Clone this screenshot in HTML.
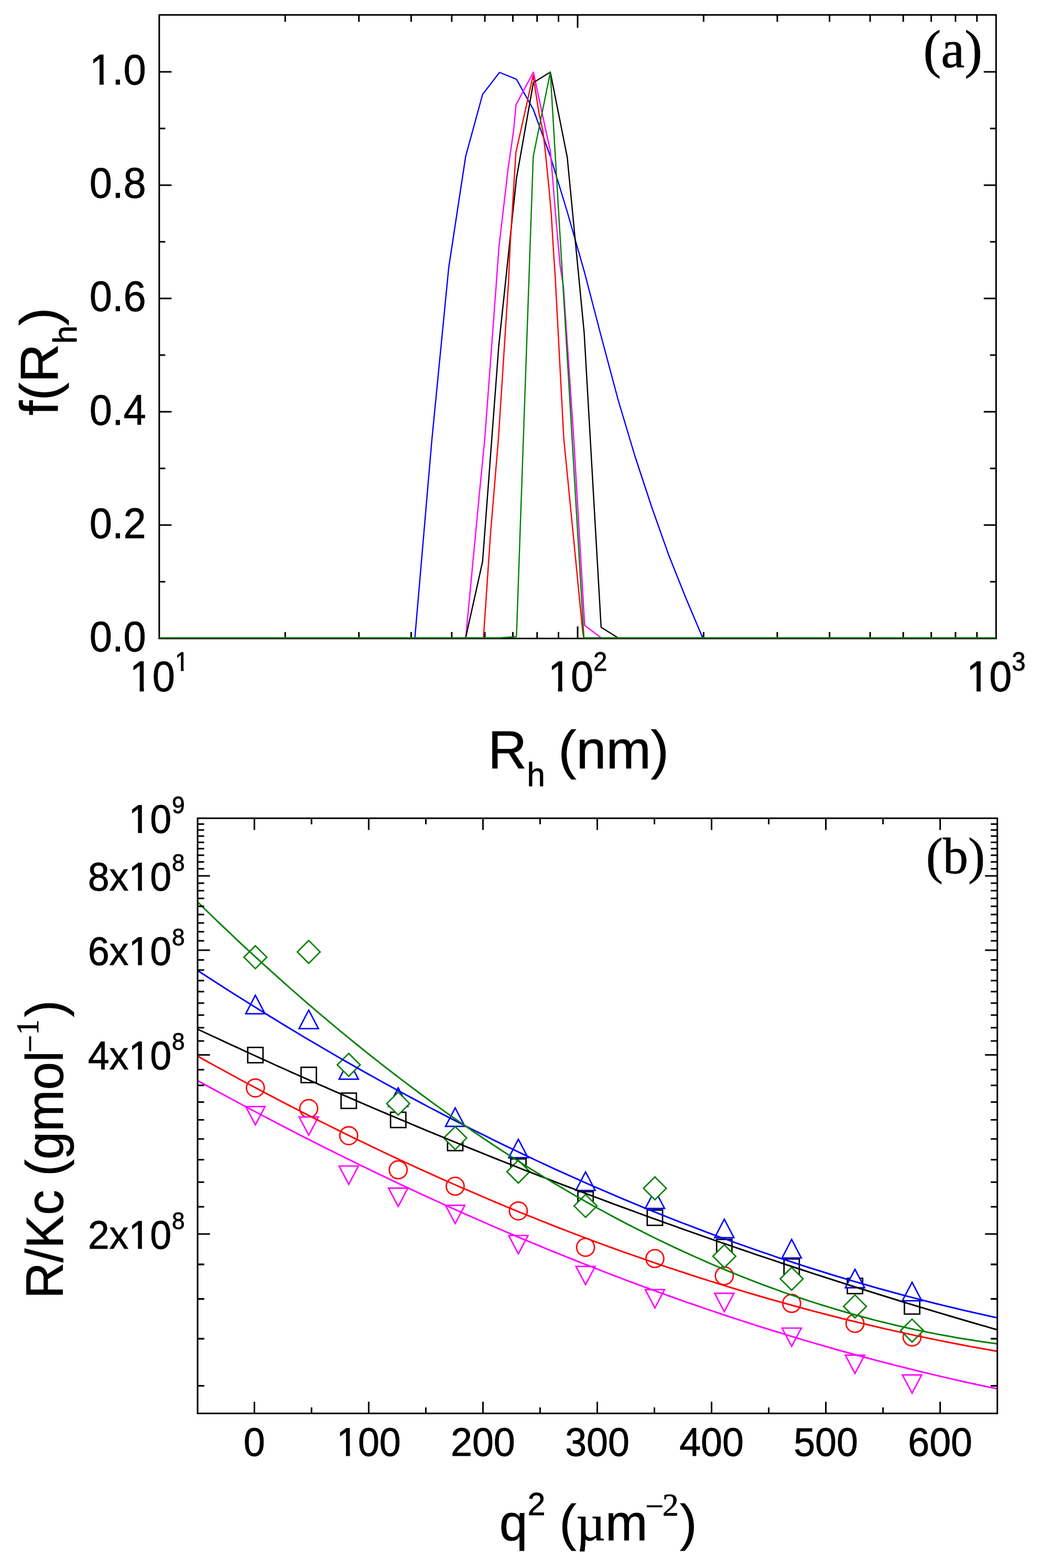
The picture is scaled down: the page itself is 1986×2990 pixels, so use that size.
<!DOCTYPE html>
<html><head><meta charset="utf-8"><title>figure</title>
<style>html,body{margin:0;padding:0;background:#fff;} svg{display:block;} text{stroke:#000;stroke-width:0.8px;}</style></head>
<body><svg width="1986" height="2990" viewBox="0 0 1986 2990">
<defs><clipPath id="clipb"><rect x="377.0" y="1560.3" width="1525.7" height="1134.9"/></clipPath></defs>
<rect width="1986" height="2990" fill="#fff"/>
<rect x="303.8" y="28.4" width="1596.5" height="1189.1" fill="none" stroke="#000" stroke-width="3"/>
<line x1="303.8" y1="1217.3" x2="327.3" y2="1217.3" stroke="#000" stroke-width="3"/>
<line x1="1900.3" y1="1217.3" x2="1876.8" y2="1217.3" stroke="#000" stroke-width="3"/>
<line x1="303.8" y1="1109.3" x2="315.3" y2="1109.3" stroke="#000" stroke-width="3"/>
<line x1="1900.3" y1="1109.3" x2="1888.8" y2="1109.3" stroke="#000" stroke-width="3"/>
<line x1="303.8" y1="1001.2" x2="327.3" y2="1001.2" stroke="#000" stroke-width="3"/>
<line x1="1900.3" y1="1001.2" x2="1876.8" y2="1001.2" stroke="#000" stroke-width="3"/>
<line x1="303.8" y1="893.2" x2="315.3" y2="893.2" stroke="#000" stroke-width="3"/>
<line x1="1900.3" y1="893.2" x2="1888.8" y2="893.2" stroke="#000" stroke-width="3"/>
<line x1="303.8" y1="785.2" x2="327.3" y2="785.2" stroke="#000" stroke-width="3"/>
<line x1="1900.3" y1="785.2" x2="1876.8" y2="785.2" stroke="#000" stroke-width="3"/>
<line x1="303.8" y1="677.1" x2="315.3" y2="677.1" stroke="#000" stroke-width="3"/>
<line x1="1900.3" y1="677.1" x2="1888.8" y2="677.1" stroke="#000" stroke-width="3"/>
<line x1="303.8" y1="569.1" x2="327.3" y2="569.1" stroke="#000" stroke-width="3"/>
<line x1="1900.3" y1="569.1" x2="1876.8" y2="569.1" stroke="#000" stroke-width="3"/>
<line x1="303.8" y1="461.1" x2="315.3" y2="461.1" stroke="#000" stroke-width="3"/>
<line x1="1900.3" y1="461.1" x2="1888.8" y2="461.1" stroke="#000" stroke-width="3"/>
<line x1="303.8" y1="353.1" x2="327.3" y2="353.1" stroke="#000" stroke-width="3"/>
<line x1="1900.3" y1="353.1" x2="1876.8" y2="353.1" stroke="#000" stroke-width="3"/>
<line x1="303.8" y1="245.0" x2="315.3" y2="245.0" stroke="#000" stroke-width="3"/>
<line x1="1900.3" y1="245.0" x2="1888.8" y2="245.0" stroke="#000" stroke-width="3"/>
<line x1="303.8" y1="137.0" x2="327.3" y2="137.0" stroke="#000" stroke-width="3"/>
<line x1="1900.3" y1="137.0" x2="1876.8" y2="137.0" stroke="#000" stroke-width="3"/>
<line x1="544.1" y1="1217.5" x2="544.1" y2="1205.2" stroke="#000" stroke-width="3"/>
<line x1="544.1" y1="28.4" x2="544.1" y2="41.6" stroke="#000" stroke-width="3"/>
<line x1="684.7" y1="1217.5" x2="684.7" y2="1205.2" stroke="#000" stroke-width="3"/>
<line x1="684.7" y1="28.4" x2="684.7" y2="41.6" stroke="#000" stroke-width="3"/>
<line x1="784.4" y1="1217.5" x2="784.4" y2="1205.2" stroke="#000" stroke-width="3"/>
<line x1="784.4" y1="28.4" x2="784.4" y2="41.6" stroke="#000" stroke-width="3"/>
<line x1="861.8" y1="1217.5" x2="861.8" y2="1205.2" stroke="#000" stroke-width="3"/>
<line x1="861.8" y1="28.4" x2="861.8" y2="41.6" stroke="#000" stroke-width="3"/>
<line x1="925.0" y1="1217.5" x2="925.0" y2="1205.2" stroke="#000" stroke-width="3"/>
<line x1="925.0" y1="28.4" x2="925.0" y2="41.6" stroke="#000" stroke-width="3"/>
<line x1="978.4" y1="1217.5" x2="978.4" y2="1205.2" stroke="#000" stroke-width="3"/>
<line x1="978.4" y1="28.4" x2="978.4" y2="41.6" stroke="#000" stroke-width="3"/>
<line x1="1024.7" y1="1217.5" x2="1024.7" y2="1205.2" stroke="#000" stroke-width="3"/>
<line x1="1024.7" y1="28.4" x2="1024.7" y2="41.6" stroke="#000" stroke-width="3"/>
<line x1="1065.5" y1="1217.5" x2="1065.5" y2="1205.2" stroke="#000" stroke-width="3"/>
<line x1="1065.5" y1="28.4" x2="1065.5" y2="41.6" stroke="#000" stroke-width="3"/>
<line x1="1102.0" y1="1217.5" x2="1102.0" y2="1194.5" stroke="#000" stroke-width="3"/>
<line x1="1102.0" y1="28.4" x2="1102.0" y2="52.9" stroke="#000" stroke-width="3"/>
<line x1="1342.3" y1="1217.5" x2="1342.3" y2="1205.2" stroke="#000" stroke-width="3"/>
<line x1="1342.3" y1="28.4" x2="1342.3" y2="41.6" stroke="#000" stroke-width="3"/>
<line x1="1482.9" y1="1217.5" x2="1482.9" y2="1205.2" stroke="#000" stroke-width="3"/>
<line x1="1482.9" y1="28.4" x2="1482.9" y2="41.6" stroke="#000" stroke-width="3"/>
<line x1="1582.6" y1="1217.5" x2="1582.6" y2="1205.2" stroke="#000" stroke-width="3"/>
<line x1="1582.6" y1="28.4" x2="1582.6" y2="41.6" stroke="#000" stroke-width="3"/>
<line x1="1660.0" y1="1217.5" x2="1660.0" y2="1205.2" stroke="#000" stroke-width="3"/>
<line x1="1660.0" y1="28.4" x2="1660.0" y2="41.6" stroke="#000" stroke-width="3"/>
<line x1="1723.2" y1="1217.5" x2="1723.2" y2="1205.2" stroke="#000" stroke-width="3"/>
<line x1="1723.2" y1="28.4" x2="1723.2" y2="41.6" stroke="#000" stroke-width="3"/>
<line x1="1776.6" y1="1217.5" x2="1776.6" y2="1205.2" stroke="#000" stroke-width="3"/>
<line x1="1776.6" y1="28.4" x2="1776.6" y2="41.6" stroke="#000" stroke-width="3"/>
<line x1="1822.9" y1="1217.5" x2="1822.9" y2="1205.2" stroke="#000" stroke-width="3"/>
<line x1="1822.9" y1="28.4" x2="1822.9" y2="41.6" stroke="#000" stroke-width="3"/>
<line x1="1863.8" y1="1217.5" x2="1863.8" y2="1205.2" stroke="#000" stroke-width="3"/>
<line x1="1863.8" y1="28.4" x2="1863.8" y2="41.6" stroke="#000" stroke-width="3"/>
<polyline points="304.0,1216.3 791.5,1216.3 823.8,840.0 856.1,510.0 888.4,298.0 920.7,180.0 953.0,138.0 985.3,151.2 1017.6,209.0 1049.9,298.0 1082.2,404.0 1114.5,517.0 1146.8,641.0 1179.1,762.0 1211.4,870.0 1243.7,968.0 1276.0,1059.0 1308.3,1140.0 1340.6,1216.3 1900.0,1216.3" fill="none" stroke="#0000ff" stroke-width="2.4" stroke-linejoin="round"/>
<polyline points="304.0,1216.3 888.5,1216.3 913.9,948.6 925.0,835.0 946.5,545.0 951.7,473.2 960.6,396.7 969.5,320.2 979.7,250.0 984.5,199.6 1017.6,137.5 1041.6,250.0 1050.0,288.3 1054.3,339.3 1059.4,403.1 1064.5,460.5 1068.4,505.1 1075.0,548.0 1094.5,835.0 1115.4,1192.5 1146.8,1216.3 1900.0,1216.3" fill="none" stroke="#ff00ff" stroke-width="2.4" stroke-linejoin="round"/>
<polyline points="304.0,1216.3 888.4,1216.3 920.7,1070.5 951.5,660.0 985.3,340.0 1017.6,157.5 1049.9,137.5 1082.2,300.0 1114.5,635.0 1146.8,1196.3 1179.1,1216.3 1900.0,1216.3" fill="none" stroke="#000000" stroke-width="2.4" stroke-linejoin="round"/>
<polyline points="304.0,1216.3 922.3,1216.3 935.9,1016.3 951.0,835.0 970.0,540.0 973.3,466.8 976.5,415.8 980.4,352.0 984.2,290.8 1017.0,144.0 1029.0,220.0 1035.7,249.5 1040.3,288.3 1046.7,352.0 1051.8,409.4 1055.6,473.2 1059.4,530.6 1075.5,835.0 1112.0,1207.7 1113.7,1216.3 1900.0,1216.3" fill="none" stroke="#ff0000" stroke-width="2.4" stroke-linejoin="round"/>
<polyline points="304.0,1216.3 953.0,1216.3 985.3,1214.0 1017.3,298.5 1049.9,137.5 1114.0,1216.3 1900.0,1216.3" fill="none" stroke="#008000" stroke-width="2.4" stroke-linejoin="round"/>
<text transform="translate(278.6,1241.6) scale(1,1.05)" font-family="'Liberation Sans', Arial, sans-serif" font-size="77.5" text-anchor="end" >0.0</text>
<text transform="translate(278.6,1025.5) scale(1,1.05)" font-family="'Liberation Sans', Arial, sans-serif" font-size="77.5" text-anchor="end" >0.2</text>
<text transform="translate(278.6,809.5) scale(1,1.05)" font-family="'Liberation Sans', Arial, sans-serif" font-size="77.5" text-anchor="end" >0.4</text>
<text transform="translate(278.6,593.4) scale(1,1.05)" font-family="'Liberation Sans', Arial, sans-serif" font-size="77.5" text-anchor="end" >0.6</text>
<text transform="translate(278.6,377.4) scale(1,1.05)" font-family="'Liberation Sans', Arial, sans-serif" font-size="77.5" text-anchor="end" >0.8</text>
<text transform="translate(278.6,161.3) scale(1,1.05)" font-family="'Liberation Sans', Arial, sans-serif" font-size="77.5" text-anchor="end" >1.0</text>
<text transform="translate(303.8,1317.5) scale(1,1.05)" font-family="'Liberation Sans', Arial, sans-serif" font-size="77.5" text-anchor="middle">10<tspan font-size="47.2" dy="-37">1</tspan></text>
<text transform="translate(1102.0,1317.5) scale(1,1.05)" font-family="'Liberation Sans', Arial, sans-serif" font-size="77.5" text-anchor="middle">10<tspan font-size="47.2" dy="-37">2</tspan></text>
<text transform="translate(1900.3,1317.5) scale(1,1.05)" font-family="'Liberation Sans', Arial, sans-serif" font-size="77.5" text-anchor="middle">10<tspan font-size="47.2" dy="-37">3</tspan></text>
<text x="1761.5" y="128.4" font-family="'Liberation Serif', 'Times New Roman', serif" font-size="101.4">(a)</text>
<text x="931.1" y="1464.8" font-family="'Liberation Sans', Arial, sans-serif" font-size="102.5">R<tspan font-size="62.4" dy="33.7">h</tspan><tspan dy="-33.7" dx="-3"> (nm)</tspan></text>
<text transform="translate(110.2,792.2) rotate(-90)" font-family="'Liberation Sans', Arial, sans-serif" font-size="102.5">f(R<tspan font-size="62.4" dy="35.5">h</tspan><tspan dy="-35.5">)</tspan></text>
<g clip-path="url(#clipb)"><rect x="472.6" y="1997.3" width="29.2" height="29.2" fill="#fff" stroke="#000" stroke-width="2.7"/><rect x="574.4" y="2035.2" width="29.2" height="29.2" fill="#fff" stroke="#000" stroke-width="2.7"/><rect x="650.7" y="2084.4" width="29.2" height="29.2" fill="#fff" stroke="#000" stroke-width="2.7"/><rect x="745.1" y="2120.9" width="29.2" height="29.2" fill="#fff" stroke="#000" stroke-width="2.7"/><rect x="853.8" y="2164.9" width="29.2" height="29.2" fill="#fff" stroke="#000" stroke-width="2.7"/><rect x="974.3" y="2209.9" width="29.2" height="29.2" fill="#fff" stroke="#000" stroke-width="2.7"/><rect x="1102.5" y="2272.4" width="29.2" height="29.2" fill="#fff" stroke="#000" stroke-width="2.7"/><rect x="1234.8" y="2307.4" width="29.2" height="29.2" fill="#fff" stroke="#000" stroke-width="2.7"/><rect x="1367.2" y="2363.4" width="29.2" height="29.2" fill="#fff" stroke="#000" stroke-width="2.7"/><rect x="1495.7" y="2400.7" width="29.2" height="29.2" fill="#fff" stroke="#000" stroke-width="2.7"/><rect x="1616.5" y="2437.6" width="29.2" height="29.2" fill="#fff" stroke="#000" stroke-width="2.7"/><rect x="1725.4" y="2476.6" width="29.2" height="29.2" fill="#fff" stroke="#000" stroke-width="2.7"/><circle cx="487.2" cy="2074.6" r="17" fill="#fff" stroke="#ff0000" stroke-width="2.7"/><circle cx="589.0" cy="2113.9" r="17" fill="#fff" stroke="#ff0000" stroke-width="2.7"/><circle cx="665.3" cy="2165.6" r="17" fill="#fff" stroke="#ff0000" stroke-width="2.7"/><circle cx="759.7" cy="2230.7" r="17" fill="#fff" stroke="#ff0000" stroke-width="2.7"/><circle cx="868.4" cy="2262.0" r="17" fill="#fff" stroke="#ff0000" stroke-width="2.7"/><circle cx="988.9" cy="2309.1" r="17" fill="#fff" stroke="#ff0000" stroke-width="2.7"/><circle cx="1117.1" cy="2378.5" r="17" fill="#fff" stroke="#ff0000" stroke-width="2.7"/><circle cx="1249.4" cy="2400.0" r="17" fill="#fff" stroke="#ff0000" stroke-width="2.7"/><circle cx="1381.8" cy="2432.8" r="17" fill="#fff" stroke="#ff0000" stroke-width="2.7"/><circle cx="1510.3" cy="2485.4" r="17" fill="#fff" stroke="#ff0000" stroke-width="2.7"/><circle cx="1631.1" cy="2523.5" r="17" fill="#fff" stroke="#ff0000" stroke-width="2.7"/><circle cx="1740.0" cy="2549.5" r="17" fill="#fff" stroke="#ff0000" stroke-width="2.7"/><polygon points="468.8,1933.2 505.6,1933.2 487.2,1897.9" fill="#fff" stroke="#0000ff" stroke-width="2.7"/><polygon points="570.6,1961.5 607.4,1961.5 589.0,1926.2" fill="#fff" stroke="#0000ff" stroke-width="2.7"/><polygon points="646.9,2057.8 683.7,2057.8 665.3,2022.5" fill="#fff" stroke="#0000ff" stroke-width="2.7"/><polygon points="741.3,2109.8 778.1,2109.8 759.7,2074.5" fill="#fff" stroke="#0000ff" stroke-width="2.7"/><polygon points="850.0,2147.9 886.8,2147.9 868.4,2112.6" fill="#fff" stroke="#0000ff" stroke-width="2.7"/><polygon points="970.5,2207.7 1007.3,2207.7 988.9,2172.4" fill="#fff" stroke="#0000ff" stroke-width="2.7"/><polygon points="1098.7,2270.0 1135.5,2270.0 1117.1,2234.7" fill="#fff" stroke="#0000ff" stroke-width="2.7"/><polygon points="1231.0,2304.4 1267.8,2304.4 1249.4,2269.1" fill="#fff" stroke="#0000ff" stroke-width="2.7"/><polygon points="1363.4,2360.2 1400.2,2360.2 1381.8,2324.9" fill="#fff" stroke="#0000ff" stroke-width="2.7"/><polygon points="1491.9,2398.8 1528.7,2398.8 1510.3,2363.5" fill="#fff" stroke="#0000ff" stroke-width="2.7"/><polygon points="1612.7,2455.7 1649.5,2455.7 1631.1,2420.4" fill="#fff" stroke="#0000ff" stroke-width="2.7"/><polygon points="1721.6,2480.4 1758.4,2480.4 1740.0,2445.1" fill="#fff" stroke="#0000ff" stroke-width="2.7"/><polygon points="468.8,2110.1 505.6,2110.1 487.2,2145.0" fill="#fff" stroke="#ff00ff" stroke-width="2.7"/><polygon points="570.6,2129.8 607.4,2129.8 589.0,2164.7" fill="#fff" stroke="#ff00ff" stroke-width="2.7"/><polygon points="646.9,2223.5 683.7,2223.5 665.3,2258.4" fill="#fff" stroke="#ff00ff" stroke-width="2.7"/><polygon points="741.3,2265.7 778.1,2265.7 759.7,2300.6" fill="#fff" stroke="#ff00ff" stroke-width="2.7"/><polygon points="850.0,2298.3 886.8,2298.3 868.4,2333.2" fill="#fff" stroke="#ff00ff" stroke-width="2.7"/><polygon points="970.5,2356.0 1007.3,2356.0 988.9,2390.9" fill="#fff" stroke="#ff00ff" stroke-width="2.7"/><polygon points="1098.7,2414.8 1135.5,2414.8 1117.1,2449.7" fill="#fff" stroke="#ff00ff" stroke-width="2.7"/><polygon points="1231.0,2459.2 1267.8,2459.2 1249.4,2494.1" fill="#fff" stroke="#ff00ff" stroke-width="2.7"/><polygon points="1363.4,2466.2 1400.2,2466.2 1381.8,2501.1" fill="#fff" stroke="#ff00ff" stroke-width="2.7"/><polygon points="1491.9,2532.5 1528.7,2532.5 1510.3,2567.4" fill="#fff" stroke="#ff00ff" stroke-width="2.7"/><polygon points="1612.7,2584.1 1649.5,2584.1 1631.1,2619.0" fill="#fff" stroke="#ff00ff" stroke-width="2.7"/><polygon points="1721.6,2621.8 1758.4,2621.8 1740.0,2656.7" fill="#fff" stroke="#ff00ff" stroke-width="2.7"/><polygon points="487.2,1803.5 509.0,1825.3 487.2,1847.1 465.4,1825.3" fill="#fff" stroke="#008000" stroke-width="2.7"/><polygon points="589.0,1793.4 610.8,1815.2 589.0,1837.0 567.2,1815.2" fill="#fff" stroke="#008000" stroke-width="2.7"/><polygon points="665.3,2008.8 687.1,2030.6 665.3,2052.4 643.5,2030.6" fill="#fff" stroke="#008000" stroke-width="2.7"/><polygon points="759.7,2082.6 781.5,2104.4 759.7,2126.2 737.9,2104.4" fill="#fff" stroke="#008000" stroke-width="2.7"/><polygon points="868.4,2148.3 890.2,2170.1 868.4,2191.9 846.6,2170.1" fill="#fff" stroke="#008000" stroke-width="2.7"/><polygon points="988.9,2212.4 1010.7,2234.2 988.9,2256.0 967.1,2234.2" fill="#fff" stroke="#008000" stroke-width="2.7"/><polygon points="1117.1,2277.8 1138.9,2299.6 1117.1,2321.4 1095.3,2299.6" fill="#fff" stroke="#008000" stroke-width="2.7"/><polygon points="1249.4,2244.2 1271.2,2266.0 1249.4,2287.8 1227.6,2266.0" fill="#fff" stroke="#008000" stroke-width="2.7"/><polygon points="1381.8,2373.7 1403.6,2395.5 1381.8,2417.3 1360.0,2395.5" fill="#fff" stroke="#008000" stroke-width="2.7"/><polygon points="1510.3,2416.7 1532.1,2438.5 1510.3,2460.3 1488.5,2438.5" fill="#fff" stroke="#008000" stroke-width="2.7"/><polygon points="1631.1,2469.4 1652.9,2491.2 1631.1,2513.0 1609.3,2491.2" fill="#fff" stroke="#008000" stroke-width="2.7"/><polygon points="1740.0,2515.4 1761.8,2537.2 1740.0,2559.0 1718.2,2537.2" fill="#fff" stroke="#008000" stroke-width="2.7"/></g>
<g clip-path="url(#clipb)"><polyline points="377.0,1962.5 389.8,1968.5 402.6,1974.5 415.5,1980.4 428.3,1986.4 441.1,1992.3 453.9,1998.2 466.7,2004.1 479.6,2010.0 492.4,2015.9 505.2,2021.7 518.0,2027.5 530.9,2033.3 543.7,2039.0 556.5,2044.8 569.3,2050.5 582.1,2056.2 595.0,2061.9 607.8,2067.6 620.6,2073.2 633.4,2078.8 646.2,2084.4 659.1,2090.0 671.9,2095.5 684.7,2101.1 697.5,2106.6 710.3,2112.1 723.2,2117.6 736.0,2123.0 748.8,2128.4 761.6,2133.9 774.5,2139.2 787.3,2144.6 800.1,2150.0 812.9,2155.3 825.7,2160.6 838.6,2165.9 851.4,2171.2 864.2,2176.4 877.0,2181.6 889.8,2186.8 902.7,2192.0 915.5,2197.2 928.3,2202.3 941.1,2207.5 953.9,2212.6 966.8,2217.6 979.6,2222.7 992.4,2227.8 1005.2,2232.8 1018.1,2237.8 1030.9,2242.8 1043.7,2247.7 1056.5,2252.7 1069.3,2257.6 1082.2,2262.5 1095.0,2267.4 1107.8,2272.2 1120.6,2277.1 1133.4,2281.9 1146.3,2286.7 1159.1,2291.5 1171.9,2296.3 1184.7,2301.0 1197.5,2305.7 1210.4,2310.4 1223.2,2315.1 1236.0,2319.8 1248.8,2324.4 1261.6,2329.0 1274.5,2333.7 1287.3,2338.2 1300.1,2342.8 1312.9,2347.4 1325.8,2351.9 1338.6,2356.4 1351.4,2360.9 1364.2,2365.3 1377.0,2369.8 1389.9,2374.2 1402.7,2378.6 1415.5,2383.0 1428.3,2387.4 1441.1,2391.8 1454.0,2396.1 1466.8,2400.4 1479.6,2404.7 1492.4,2409.0 1505.2,2413.2 1518.1,2417.5 1530.9,2421.7 1543.7,2425.9 1556.5,2430.1 1569.4,2434.2 1582.2,2438.4 1595.0,2442.5 1607.8,2446.6 1620.6,2450.7 1633.5,2454.7 1646.3,2458.8 1659.1,2462.8 1671.9,2466.8 1684.7,2470.8 1697.6,2474.8 1710.4,2478.7 1723.2,2482.7 1736.0,2486.6 1748.8,2490.5 1761.7,2494.4 1774.5,2498.2 1787.3,2502.1 1800.1,2505.9 1813.0,2509.7 1825.8,2513.5 1838.6,2517.2 1851.4,2521.0 1864.2,2524.7 1877.1,2528.4 1889.9,2532.1 1902.7,2535.8" fill="none" stroke="#000000" stroke-width="3"/><polyline points="377.0,2013.9 389.8,2021.1 402.6,2028.2 415.5,2035.3 428.3,2042.3 441.1,2049.3 453.9,2056.2 466.7,2063.2 479.6,2070.0 492.4,2076.9 505.2,2083.7 518.0,2090.4 530.9,2097.1 543.7,2103.8 556.5,2110.4 569.3,2117.0 582.1,2123.6 595.0,2130.1 607.8,2136.6 620.6,2143.0 633.4,2149.4 646.2,2155.7 659.1,2162.1 671.9,2168.3 684.7,2174.6 697.5,2180.7 710.3,2186.9 723.2,2193.0 736.0,2199.1 748.8,2205.1 761.6,2211.1 774.5,2217.0 787.3,2222.9 800.1,2228.8 812.9,2234.6 825.7,2240.4 838.6,2246.2 851.4,2251.9 864.2,2257.5 877.0,2263.1 889.8,2268.7 902.7,2274.2 915.5,2279.7 928.3,2285.2 941.1,2290.6 953.9,2296.0 966.8,2301.3 979.6,2306.6 992.4,2311.9 1005.2,2317.1 1018.1,2322.2 1030.9,2327.3 1043.7,2332.4 1056.5,2337.5 1069.3,2342.5 1082.2,2347.4 1095.0,2352.3 1107.8,2357.2 1120.6,2362.1 1133.4,2366.8 1146.3,2371.6 1159.1,2376.3 1171.9,2381.0 1184.7,2385.6 1197.5,2390.2 1210.4,2394.7 1223.2,2399.2 1236.0,2403.7 1248.8,2408.1 1261.6,2412.5 1274.5,2416.8 1287.3,2421.1 1300.1,2425.3 1312.9,2429.5 1325.8,2433.7 1338.6,2437.8 1351.4,2441.9 1364.2,2445.9 1377.0,2449.9 1389.9,2453.9 1402.7,2457.8 1415.5,2461.6 1428.3,2465.5 1441.1,2469.2 1454.0,2473.0 1466.8,2476.7 1479.6,2480.3 1492.4,2483.9 1505.2,2487.5 1518.1,2491.0 1530.9,2494.5 1543.7,2498.0 1556.5,2501.4 1569.4,2504.7 1582.2,2508.0 1595.0,2511.3 1607.8,2514.5 1620.6,2517.7 1633.5,2520.8 1646.3,2523.9 1659.1,2527.0 1671.9,2530.0 1684.7,2533.0 1697.6,2535.9 1710.4,2538.8 1723.2,2541.6 1736.0,2544.4 1748.8,2547.2 1761.7,2549.9 1774.5,2552.5 1787.3,2555.1 1800.1,2557.7 1813.0,2560.3 1825.8,2562.8 1838.6,2565.2 1851.4,2567.6 1864.2,2570.0 1877.1,2572.3 1889.9,2574.6 1902.7,2576.8" fill="none" stroke="#ff0000" stroke-width="3"/><polyline points="377.0,1850.6 389.8,1858.9 402.6,1867.3 415.5,1875.5 428.3,1883.7 441.1,1891.9 453.9,1900.0 466.7,1908.1 479.6,1916.1 492.4,1924.1 505.2,1932.1 518.0,1939.9 530.9,1947.8 543.7,1955.6 556.5,1963.3 569.3,1971.0 582.1,1978.7 595.0,1986.3 607.8,1993.8 620.6,2001.3 633.4,2008.8 646.2,2016.2 659.1,2023.6 671.9,2030.9 684.7,2038.1 697.5,2045.4 710.3,2052.5 723.2,2059.7 736.0,2066.7 748.8,2073.8 761.6,2080.8 774.5,2087.7 787.3,2094.6 800.1,2101.4 812.9,2108.2 825.7,2115.0 838.6,2121.7 851.4,2128.3 864.2,2134.9 877.0,2141.5 889.8,2148.0 902.7,2154.5 915.5,2160.9 928.3,2167.2 941.1,2173.6 953.9,2179.8 966.8,2186.1 979.6,2192.2 992.4,2198.4 1005.2,2204.4 1018.1,2210.5 1030.9,2216.5 1043.7,2222.4 1056.5,2228.3 1069.3,2234.1 1082.2,2239.9 1095.0,2245.7 1107.8,2251.4 1120.6,2257.1 1133.4,2262.7 1146.3,2268.2 1159.1,2273.7 1171.9,2279.2 1184.7,2284.6 1197.5,2290.0 1210.4,2295.3 1223.2,2300.6 1236.0,2305.8 1248.8,2311.0 1261.6,2316.2 1274.5,2321.3 1287.3,2326.3 1300.1,2331.3 1312.9,2336.2 1325.8,2341.1 1338.6,2346.0 1351.4,2350.8 1364.2,2355.6 1377.0,2360.3 1389.9,2364.9 1402.7,2369.6 1415.5,2374.1 1428.3,2378.7 1441.1,2383.1 1454.0,2387.6 1466.8,2391.9 1479.6,2396.3 1492.4,2400.6 1505.2,2404.8 1518.1,2409.0 1530.9,2413.1 1543.7,2417.2 1556.5,2421.3 1569.4,2425.3 1582.2,2429.3 1595.0,2433.2 1607.8,2437.0 1620.6,2440.9 1633.5,2444.6 1646.3,2448.3 1659.1,2452.0 1671.9,2455.7 1684.7,2459.2 1697.6,2462.8 1710.4,2466.3 1723.2,2469.7 1736.0,2473.1 1748.8,2476.4 1761.7,2479.7 1774.5,2483.0 1787.3,2486.2 1800.1,2489.4 1813.0,2492.5 1825.8,2495.5 1838.6,2498.6 1851.4,2501.5 1864.2,2504.4 1877.1,2507.3 1889.9,2510.2 1902.7,2512.9" fill="none" stroke="#0000ff" stroke-width="3"/><polyline points="377.0,2060.6 389.8,2067.6 402.6,2074.6 415.5,2081.6 428.3,2088.5 441.1,2095.5 453.9,2102.3 466.7,2109.2 479.6,2116.0 492.4,2122.8 505.2,2129.5 518.0,2136.3 530.9,2142.9 543.7,2149.6 556.5,2156.2 569.3,2162.8 582.1,2169.3 595.0,2175.8 607.8,2182.3 620.6,2188.8 633.4,2195.2 646.2,2201.5 659.1,2207.9 671.9,2214.2 684.7,2220.5 697.5,2226.7 710.3,2232.9 723.2,2239.1 736.0,2245.2 748.8,2251.3 761.6,2257.4 774.5,2263.4 787.3,2269.4 800.1,2275.4 812.9,2281.3 825.7,2287.2 838.6,2293.0 851.4,2298.8 864.2,2304.6 877.0,2310.4 889.8,2316.1 902.7,2321.7 915.5,2327.4 928.3,2333.0 941.1,2338.6 953.9,2344.1 966.8,2349.6 979.6,2355.0 992.4,2360.5 1005.2,2365.9 1018.1,2371.2 1030.9,2376.5 1043.7,2381.8 1056.5,2387.0 1069.3,2392.2 1082.2,2397.4 1095.0,2402.5 1107.8,2407.6 1120.6,2412.7 1133.4,2417.7 1146.3,2422.7 1159.1,2427.6 1171.9,2432.5 1184.7,2437.4 1197.5,2442.3 1210.4,2447.0 1223.2,2451.8 1236.0,2456.5 1248.8,2461.2 1261.6,2465.9 1274.5,2470.5 1287.3,2475.0 1300.1,2479.6 1312.9,2484.1 1325.8,2488.5 1338.6,2492.9 1351.4,2497.3 1364.2,2501.7 1377.0,2506.0 1389.9,2510.2 1402.7,2514.4 1415.5,2518.6 1428.3,2522.8 1441.1,2526.9 1454.0,2531.0 1466.8,2535.0 1479.6,2539.0 1492.4,2542.9 1505.2,2546.9 1518.1,2550.7 1530.9,2554.6 1543.7,2558.4 1556.5,2562.1 1569.4,2565.8 1582.2,2569.5 1595.0,2573.2 1607.8,2576.8 1620.6,2580.3 1633.5,2583.8 1646.3,2587.3 1659.1,2590.7 1671.9,2594.1 1684.7,2597.5 1697.6,2600.8 1710.4,2604.1 1723.2,2607.3 1736.0,2610.5 1748.8,2613.7 1761.7,2616.8 1774.5,2619.9 1787.3,2622.9 1800.1,2625.9 1813.0,2628.9 1825.8,2631.8 1838.6,2634.7 1851.4,2637.5 1864.2,2640.3 1877.1,2643.0 1889.9,2645.7 1902.7,2648.4" fill="none" stroke="#ff00ff" stroke-width="3"/><polyline points="377.0,1720.0 389.8,1732.6 402.6,1745.0 415.5,1757.3 428.3,1769.6 441.1,1781.7 453.9,1793.8 466.7,1805.8 479.6,1817.7 492.4,1829.4 505.2,1841.1 518.0,1852.7 530.9,1864.2 543.7,1875.6 556.5,1887.0 569.3,1898.2 582.1,1909.3 595.0,1920.4 607.8,1931.3 620.6,1942.1 633.4,1952.9 646.2,1963.6 659.1,1974.1 671.9,1984.6 684.7,1995.0 697.5,2005.3 710.3,2015.5 723.2,2025.6 736.0,2035.6 748.8,2045.5 761.6,2055.4 774.5,2065.1 787.3,2074.8 800.1,2084.3 812.9,2093.8 825.7,2103.1 838.6,2112.4 851.4,2121.6 864.2,2130.7 877.0,2139.7 889.8,2148.6 902.7,2157.4 915.5,2166.1 928.3,2174.7 941.1,2183.3 953.9,2191.7 966.8,2200.0 979.6,2208.3 992.4,2216.5 1005.2,2224.5 1018.1,2232.5 1030.9,2240.4 1043.7,2248.2 1056.5,2255.9 1069.3,2263.5 1082.2,2271.0 1095.0,2278.5 1107.8,2285.8 1120.6,2293.1 1133.4,2300.2 1146.3,2307.3 1159.1,2314.2 1171.9,2321.1 1184.7,2327.9 1197.5,2334.6 1210.4,2341.2 1223.2,2347.7 1236.0,2354.1 1248.8,2360.5 1261.6,2366.7 1274.5,2372.8 1287.3,2378.9 1300.1,2384.8 1312.9,2390.7 1325.8,2396.5 1338.6,2402.2 1351.4,2407.8 1364.2,2413.3 1377.0,2418.7 1389.9,2424.0 1402.7,2429.2 1415.5,2434.4 1428.3,2439.4 1441.1,2444.4 1454.0,2449.3 1466.8,2454.0 1479.6,2458.7 1492.4,2463.3 1505.2,2467.8 1518.1,2472.2 1530.9,2476.5 1543.7,2480.8 1556.5,2484.9 1569.4,2489.0 1582.2,2492.9 1595.0,2496.8 1607.8,2500.5 1620.6,2504.2 1633.5,2507.8 1646.3,2511.3 1659.1,2514.7 1671.9,2518.1 1684.7,2521.3 1697.6,2524.4 1710.4,2527.5 1723.2,2530.4 1736.0,2533.3 1748.8,2536.1 1761.7,2538.8 1774.5,2541.4 1787.3,2543.9 1800.1,2546.3 1813.0,2548.6 1825.8,2550.9 1838.6,2553.0 1851.4,2555.1 1864.2,2557.0 1877.1,2558.9 1889.9,2560.7 1902.7,2562.4" fill="none" stroke="#008000" stroke-width="3"/></g>
<rect x="377.0" y="1560.3" width="1525.7" height="1134.9" fill="none" stroke="#000" stroke-width="3"/>
<line x1="485.3" y1="2695.2" x2="485.3" y2="2672.9" stroke="#000" stroke-width="3"/>
<line x1="485.3" y1="1560.3" x2="485.3" y2="1582.6" stroke="#000" stroke-width="3"/>
<line x1="594.3" y1="2695.2" x2="594.3" y2="2683.7" stroke="#000" stroke-width="3"/>
<line x1="594.3" y1="1560.3" x2="594.3" y2="1571.8" stroke="#000" stroke-width="3"/>
<line x1="703.4" y1="2695.2" x2="703.4" y2="2672.9" stroke="#000" stroke-width="3"/>
<line x1="703.4" y1="1560.3" x2="703.4" y2="1582.6" stroke="#000" stroke-width="3"/>
<line x1="812.4" y1="2695.2" x2="812.4" y2="2683.7" stroke="#000" stroke-width="3"/>
<line x1="812.4" y1="1560.3" x2="812.4" y2="1571.8" stroke="#000" stroke-width="3"/>
<line x1="921.4" y1="2695.2" x2="921.4" y2="2672.9" stroke="#000" stroke-width="3"/>
<line x1="921.4" y1="1560.3" x2="921.4" y2="1582.6" stroke="#000" stroke-width="3"/>
<line x1="1030.4" y1="2695.2" x2="1030.4" y2="2683.7" stroke="#000" stroke-width="3"/>
<line x1="1030.4" y1="1560.3" x2="1030.4" y2="1571.8" stroke="#000" stroke-width="3"/>
<line x1="1139.5" y1="2695.2" x2="1139.5" y2="2672.9" stroke="#000" stroke-width="3"/>
<line x1="1139.5" y1="1560.3" x2="1139.5" y2="1582.6" stroke="#000" stroke-width="3"/>
<line x1="1248.5" y1="2695.2" x2="1248.5" y2="2683.7" stroke="#000" stroke-width="3"/>
<line x1="1248.5" y1="1560.3" x2="1248.5" y2="1571.8" stroke="#000" stroke-width="3"/>
<line x1="1357.5" y1="2695.2" x2="1357.5" y2="2672.9" stroke="#000" stroke-width="3"/>
<line x1="1357.5" y1="1560.3" x2="1357.5" y2="1582.6" stroke="#000" stroke-width="3"/>
<line x1="1466.5" y1="2695.2" x2="1466.5" y2="2683.7" stroke="#000" stroke-width="3"/>
<line x1="1466.5" y1="1560.3" x2="1466.5" y2="1571.8" stroke="#000" stroke-width="3"/>
<line x1="1575.5" y1="2695.2" x2="1575.5" y2="2672.9" stroke="#000" stroke-width="3"/>
<line x1="1575.5" y1="1560.3" x2="1575.5" y2="1582.6" stroke="#000" stroke-width="3"/>
<line x1="1684.6" y1="2695.2" x2="1684.6" y2="2683.7" stroke="#000" stroke-width="3"/>
<line x1="1684.6" y1="1560.3" x2="1684.6" y2="1571.8" stroke="#000" stroke-width="3"/>
<line x1="1793.6" y1="2695.2" x2="1793.6" y2="2672.9" stroke="#000" stroke-width="3"/>
<line x1="1793.6" y1="1560.3" x2="1793.6" y2="1582.6" stroke="#000" stroke-width="3"/>
<line x1="377.0" y1="2411.1" x2="389.5" y2="2411.1" stroke="#000" stroke-width="3"/>
<line x1="1902.7" y1="2411.1" x2="1890.2" y2="2411.1" stroke="#000" stroke-width="3"/>
<line x1="377.0" y1="2476.9" x2="389.5" y2="2476.9" stroke="#000" stroke-width="3"/>
<line x1="1902.7" y1="2476.9" x2="1890.2" y2="2476.9" stroke="#000" stroke-width="3"/>
<line x1="377.0" y1="2552.8" x2="389.5" y2="2552.8" stroke="#000" stroke-width="3"/>
<line x1="1902.7" y1="2552.8" x2="1890.2" y2="2552.8" stroke="#000" stroke-width="3"/>
<line x1="377.0" y1="2642.6" x2="389.5" y2="2642.6" stroke="#000" stroke-width="3"/>
<line x1="1902.7" y1="2642.6" x2="1890.2" y2="2642.6" stroke="#000" stroke-width="3"/>
<line x1="377.0" y1="2353.1" x2="400.5" y2="2353.1" stroke="#000" stroke-width="3"/>
<line x1="1902.7" y1="2353.1" x2="1879.2" y2="2353.1" stroke="#000" stroke-width="3"/>
<line x1="377.0" y1="2039.8" x2="389.5" y2="2039.8" stroke="#000" stroke-width="3"/>
<line x1="1902.7" y1="2039.8" x2="1890.2" y2="2039.8" stroke="#000" stroke-width="3"/>
<line x1="377.0" y1="2069.7" x2="389.5" y2="2069.7" stroke="#000" stroke-width="3"/>
<line x1="1902.7" y1="2069.7" x2="1890.2" y2="2069.7" stroke="#000" stroke-width="3"/>
<line x1="377.0" y1="2101.5" x2="389.5" y2="2101.5" stroke="#000" stroke-width="3"/>
<line x1="1902.7" y1="2101.5" x2="1890.2" y2="2101.5" stroke="#000" stroke-width="3"/>
<line x1="377.0" y1="2135.4" x2="389.5" y2="2135.4" stroke="#000" stroke-width="3"/>
<line x1="1902.7" y1="2135.4" x2="1890.2" y2="2135.4" stroke="#000" stroke-width="3"/>
<line x1="377.0" y1="2171.9" x2="389.5" y2="2171.9" stroke="#000" stroke-width="3"/>
<line x1="1902.7" y1="2171.9" x2="1890.2" y2="2171.9" stroke="#000" stroke-width="3"/>
<line x1="377.0" y1="2211.4" x2="389.5" y2="2211.4" stroke="#000" stroke-width="3"/>
<line x1="1902.7" y1="2211.4" x2="1890.2" y2="2211.4" stroke="#000" stroke-width="3"/>
<line x1="377.0" y1="2254.2" x2="389.5" y2="2254.2" stroke="#000" stroke-width="3"/>
<line x1="1902.7" y1="2254.2" x2="1890.2" y2="2254.2" stroke="#000" stroke-width="3"/>
<line x1="377.0" y1="2301.2" x2="389.5" y2="2301.2" stroke="#000" stroke-width="3"/>
<line x1="1902.7" y1="2301.2" x2="1890.2" y2="2301.2" stroke="#000" stroke-width="3"/>
<line x1="377.0" y1="2011.6" x2="400.5" y2="2011.6" stroke="#000" stroke-width="3"/>
<line x1="1902.7" y1="2011.6" x2="1879.2" y2="2011.6" stroke="#000" stroke-width="3"/>
<line x1="377.0" y1="1830.5" x2="389.5" y2="1830.5" stroke="#000" stroke-width="3"/>
<line x1="1902.7" y1="1830.5" x2="1890.2" y2="1830.5" stroke="#000" stroke-width="3"/>
<line x1="377.0" y1="1849.8" x2="389.5" y2="1849.8" stroke="#000" stroke-width="3"/>
<line x1="1902.7" y1="1849.8" x2="1890.2" y2="1849.8" stroke="#000" stroke-width="3"/>
<line x1="377.0" y1="1869.9" x2="389.5" y2="1869.9" stroke="#000" stroke-width="3"/>
<line x1="1902.7" y1="1869.9" x2="1890.2" y2="1869.9" stroke="#000" stroke-width="3"/>
<line x1="377.0" y1="1890.9" x2="389.5" y2="1890.9" stroke="#000" stroke-width="3"/>
<line x1="1902.7" y1="1890.9" x2="1890.2" y2="1890.9" stroke="#000" stroke-width="3"/>
<line x1="377.0" y1="1912.8" x2="389.5" y2="1912.8" stroke="#000" stroke-width="3"/>
<line x1="1902.7" y1="1912.8" x2="1890.2" y2="1912.8" stroke="#000" stroke-width="3"/>
<line x1="377.0" y1="1935.7" x2="389.5" y2="1935.7" stroke="#000" stroke-width="3"/>
<line x1="1902.7" y1="1935.7" x2="1890.2" y2="1935.7" stroke="#000" stroke-width="3"/>
<line x1="377.0" y1="1959.7" x2="389.5" y2="1959.7" stroke="#000" stroke-width="3"/>
<line x1="1902.7" y1="1959.7" x2="1890.2" y2="1959.7" stroke="#000" stroke-width="3"/>
<line x1="377.0" y1="1985.0" x2="389.5" y2="1985.0" stroke="#000" stroke-width="3"/>
<line x1="1902.7" y1="1985.0" x2="1890.2" y2="1985.0" stroke="#000" stroke-width="3"/>
<line x1="377.0" y1="1811.9" x2="400.5" y2="1811.9" stroke="#000" stroke-width="3"/>
<line x1="1902.7" y1="1811.9" x2="1879.2" y2="1811.9" stroke="#000" stroke-width="3"/>
<line x1="377.0" y1="1684.1" x2="389.5" y2="1684.1" stroke="#000" stroke-width="3"/>
<line x1="1902.7" y1="1684.1" x2="1890.2" y2="1684.1" stroke="#000" stroke-width="3"/>
<line x1="377.0" y1="1698.4" x2="389.5" y2="1698.4" stroke="#000" stroke-width="3"/>
<line x1="1902.7" y1="1698.4" x2="1890.2" y2="1698.4" stroke="#000" stroke-width="3"/>
<line x1="377.0" y1="1713.1" x2="389.5" y2="1713.1" stroke="#000" stroke-width="3"/>
<line x1="1902.7" y1="1713.1" x2="1890.2" y2="1713.1" stroke="#000" stroke-width="3"/>
<line x1="377.0" y1="1728.2" x2="389.5" y2="1728.2" stroke="#000" stroke-width="3"/>
<line x1="1902.7" y1="1728.2" x2="1890.2" y2="1728.2" stroke="#000" stroke-width="3"/>
<line x1="377.0" y1="1743.9" x2="389.5" y2="1743.9" stroke="#000" stroke-width="3"/>
<line x1="1902.7" y1="1743.9" x2="1890.2" y2="1743.9" stroke="#000" stroke-width="3"/>
<line x1="377.0" y1="1760.0" x2="389.5" y2="1760.0" stroke="#000" stroke-width="3"/>
<line x1="1902.7" y1="1760.0" x2="1890.2" y2="1760.0" stroke="#000" stroke-width="3"/>
<line x1="377.0" y1="1776.7" x2="389.5" y2="1776.7" stroke="#000" stroke-width="3"/>
<line x1="1902.7" y1="1776.7" x2="1890.2" y2="1776.7" stroke="#000" stroke-width="3"/>
<line x1="377.0" y1="1794.0" x2="389.5" y2="1794.0" stroke="#000" stroke-width="3"/>
<line x1="1902.7" y1="1794.0" x2="1890.2" y2="1794.0" stroke="#000" stroke-width="3"/>
<line x1="377.0" y1="1670.2" x2="400.5" y2="1670.2" stroke="#000" stroke-width="3"/>
<line x1="1902.7" y1="1670.2" x2="1879.2" y2="1670.2" stroke="#000" stroke-width="3"/>
<line x1="377.0" y1="1571.4" x2="389.5" y2="1571.4" stroke="#000" stroke-width="3"/>
<line x1="1902.7" y1="1571.4" x2="1890.2" y2="1571.4" stroke="#000" stroke-width="3"/>
<line x1="377.0" y1="1582.7" x2="389.5" y2="1582.7" stroke="#000" stroke-width="3"/>
<line x1="1902.7" y1="1582.7" x2="1890.2" y2="1582.7" stroke="#000" stroke-width="3"/>
<line x1="377.0" y1="1594.3" x2="389.5" y2="1594.3" stroke="#000" stroke-width="3"/>
<line x1="1902.7" y1="1594.3" x2="1890.2" y2="1594.3" stroke="#000" stroke-width="3"/>
<line x1="377.0" y1="1606.2" x2="389.5" y2="1606.2" stroke="#000" stroke-width="3"/>
<line x1="1902.7" y1="1606.2" x2="1890.2" y2="1606.2" stroke="#000" stroke-width="3"/>
<line x1="377.0" y1="1618.3" x2="389.5" y2="1618.3" stroke="#000" stroke-width="3"/>
<line x1="1902.7" y1="1618.3" x2="1890.2" y2="1618.3" stroke="#000" stroke-width="3"/>
<line x1="377.0" y1="1630.8" x2="389.5" y2="1630.8" stroke="#000" stroke-width="3"/>
<line x1="1902.7" y1="1630.8" x2="1890.2" y2="1630.8" stroke="#000" stroke-width="3"/>
<line x1="377.0" y1="1643.6" x2="389.5" y2="1643.6" stroke="#000" stroke-width="3"/>
<line x1="1902.7" y1="1643.6" x2="1890.2" y2="1643.6" stroke="#000" stroke-width="3"/>
<line x1="377.0" y1="1656.7" x2="389.5" y2="1656.7" stroke="#000" stroke-width="3"/>
<line x1="1902.7" y1="1656.7" x2="1890.2" y2="1656.7" stroke="#000" stroke-width="3"/>
<line x1="377.0" y1="2411.1" x2="389.5" y2="2411.1" stroke="#000" stroke-width="3"/>
<line x1="1902.7" y1="2411.1" x2="1890.2" y2="2411.1" stroke="#000" stroke-width="3"/>
<line x1="377.0" y1="2476.9" x2="389.5" y2="2476.9" stroke="#000" stroke-width="3"/>
<line x1="1902.7" y1="2476.9" x2="1890.2" y2="2476.9" stroke="#000" stroke-width="3"/>
<line x1="377.0" y1="2552.8" x2="389.5" y2="2552.8" stroke="#000" stroke-width="3"/>
<line x1="1902.7" y1="2552.8" x2="1890.2" y2="2552.8" stroke="#000" stroke-width="3"/>
<line x1="377.0" y1="2642.6" x2="389.5" y2="2642.6" stroke="#000" stroke-width="3"/>
<line x1="1902.7" y1="2642.6" x2="1890.2" y2="2642.6" stroke="#000" stroke-width="3"/>
<text transform="translate(485.3,2776.0) scale(1,1.04)" font-family="'Liberation Sans', Arial, sans-serif" font-size="73.5" text-anchor="middle" >0</text>
<text transform="translate(703.4,2776.0) scale(1,1.04)" font-family="'Liberation Sans', Arial, sans-serif" font-size="73.5" text-anchor="middle" >100</text>
<text transform="translate(921.4,2776.0) scale(1,1.04)" font-family="'Liberation Sans', Arial, sans-serif" font-size="73.5" text-anchor="middle" >200</text>
<text transform="translate(1139.5,2776.0) scale(1,1.04)" font-family="'Liberation Sans', Arial, sans-serif" font-size="73.5" text-anchor="middle" >300</text>
<text transform="translate(1357.5,2776.0) scale(1,1.04)" font-family="'Liberation Sans', Arial, sans-serif" font-size="73.5" text-anchor="middle" >400</text>
<text transform="translate(1575.5,2776.0) scale(1,1.04)" font-family="'Liberation Sans', Arial, sans-serif" font-size="73.5" text-anchor="middle" >500</text>
<text transform="translate(1793.6,2776.0) scale(1,1.04)" font-family="'Liberation Sans', Arial, sans-serif" font-size="73.5" text-anchor="middle" >600</text>
<text transform="translate(352.5,1588.1) scale(1,1.04)" font-family="'Liberation Sans', Arial, sans-serif" font-size="73.5" text-anchor="end">10<tspan font-size="44" dy="-35.5" dx="1">9</tspan></text>
<text transform="translate(352.5,1698.0) scale(1,1.04)" font-family="'Liberation Sans', Arial, sans-serif" font-size="73.5" text-anchor="end">8x10<tspan font-size="44" dy="-35.5" dx="1">8</tspan></text>
<text transform="translate(352.5,1839.7) scale(1,1.04)" font-family="'Liberation Sans', Arial, sans-serif" font-size="73.5" text-anchor="end">6x10<tspan font-size="44" dy="-35.5" dx="1">8</tspan></text>
<text transform="translate(352.5,2039.4) scale(1,1.04)" font-family="'Liberation Sans', Arial, sans-serif" font-size="73.5" text-anchor="end">4x10<tspan font-size="44" dy="-35.5" dx="1">8</tspan></text>
<text transform="translate(352.5,2380.9) scale(1,1.04)" font-family="'Liberation Sans', Arial, sans-serif" font-size="73.5" text-anchor="end">2x10<tspan font-size="44" dy="-35.5" dx="1">8</tspan></text>
<text x="1766.7" y="1664.9" font-family="'Liberation Serif', 'Times New Roman', serif" font-size="96.5">(b)</text>
<text x="952.8" y="2937" font-family="'Liberation Sans', Arial, sans-serif" font-size="96.5">q<tspan font-size="61" dy="-47.6">2</tspan><tspan dy="47.6"> (</tspan><tspan font-family="'Liberation Serif', 'Times New Roman', serif">&#181;</tspan>m<tspan font-family="'Liberation Serif', 'Times New Roman', serif" font-size="62" dy="-43.7" dx="-4">&#8722;</tspan><tspan font-family="'Liberation Serif', 'Times New Roman', serif" font-size="62" dy="-3.5" dx="-2.6">2</tspan><tspan dy="47.2" dx="2.6">)</tspan></text>
<text transform="translate(120.2,2476.3) rotate(-90) scale(0.99,1.03)" font-family="'Liberation Sans', Arial, sans-serif" font-size="96.5">R/Kc (gmol<tspan font-family="'Liberation Serif', 'Times New Roman', serif" font-size="60" dy="-41.2" dx="-3">&#8722;</tspan><tspan font-family="'Liberation Serif', 'Times New Roman', serif" font-size="60" dy="-4.9">1</tspan><tspan dy="46.1" dx="4.5">)</tspan></text>
<g transform="translate(278.6,161.3) scale(1,1.05)"><rect x="-103.03" y="-7.39" width="14.19" height="10.09" fill="#fff"/><rect x="-80.80" y="-7.39" width="13.58" height="10.09" fill="#fff"/></g>
<g transform="translate(303.8,1317.5) scale(1,1.05)"><rect x="-51.52" y="-7.39" width="14.19" height="10.09" fill="#fff"/><rect x="-29.29" y="-7.39" width="13.58" height="10.09" fill="#fff"/></g>
<g transform="translate(303.8,1317.5) scale(1,1.05)"><rect x="32.37" y="-42.13" width="8.87" height="7.83" fill="#fff"/><rect x="46.62" y="-42.13" width="8.51" height="7.83" fill="#fff"/></g>
<g transform="translate(1102.0,1317.5) scale(1,1.05)"><rect x="-51.52" y="-7.39" width="14.19" height="10.09" fill="#fff"/><rect x="-29.29" y="-7.39" width="13.58" height="10.09" fill="#fff"/></g>
<g transform="translate(1900.3,1317.5) scale(1,1.05)"><rect x="-51.52" y="-7.39" width="14.19" height="10.09" fill="#fff"/><rect x="-29.29" y="-7.39" width="13.58" height="10.09" fill="#fff"/></g>
<g transform="translate(703.4,2776.0) scale(1,1.04)"><rect x="-56.92" y="-7.09" width="13.48" height="9.79" fill="#fff"/><rect x="-35.74" y="-7.09" width="12.91" height="9.79" fill="#fff"/></g>
<g transform="translate(352.5,1588.1) scale(1,1.04)"><rect x="-102.83" y="-7.09" width="13.48" height="9.79" fill="#fff"/><rect x="-81.65" y="-7.09" width="12.91" height="9.79" fill="#fff"/></g>
<g transform="translate(352.5,1698.0) scale(1,1.04)"><rect x="-102.83" y="-7.09" width="13.48" height="9.79" fill="#fff"/><rect x="-81.65" y="-7.09" width="12.91" height="9.79" fill="#fff"/></g>
<g transform="translate(352.5,1839.7) scale(1,1.04)"><rect x="-102.83" y="-7.09" width="13.48" height="9.79" fill="#fff"/><rect x="-81.65" y="-7.09" width="12.91" height="9.79" fill="#fff"/></g>
<g transform="translate(352.5,2039.4) scale(1,1.04)"><rect x="-102.83" y="-7.09" width="13.48" height="9.79" fill="#fff"/><rect x="-81.65" y="-7.09" width="12.91" height="9.79" fill="#fff"/></g>
<g transform="translate(352.5,2380.9) scale(1,1.04)"><rect x="-102.83" y="-7.09" width="13.48" height="9.79" fill="#fff"/><rect x="-81.65" y="-7.09" width="12.91" height="9.79" fill="#fff"/></g>
</svg></body></html>
